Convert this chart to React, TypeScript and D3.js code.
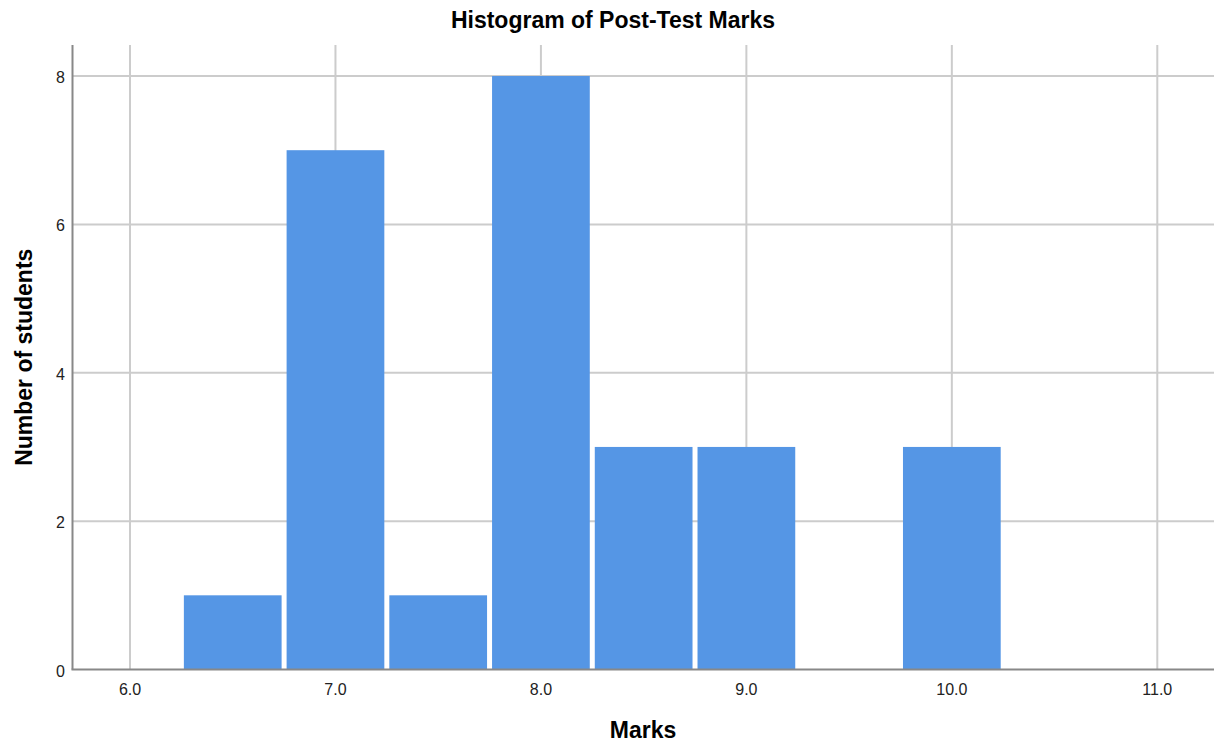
import React from 'react';
import * as d3 from 'd3';

// histogram bins (width 0.5) and counts
const binStarts = [6.25, 6.75, 7.25, 7.75, 8.25, 8.75, 9.25, 9.75];
const counts = [1, 7, 1, 8, 3, 3, 0, 3];
const binWidth = 0.5;

const xTicks = [6, 7, 8, 9, 10, 11];
const yTicks = [0, 2, 4, 6, 8];

const W = 1221;
const H = 742;
const FONT = '"Liberation Sans", Arial, sans-serif';

const App: React.FC = () => {
  const left = 72.5;
  const right = 1214;
  const top = 45;
  const bottom = 669.5;

  const x = d3.scaleLinear().domain([5.7201, 11.276]).range([left, right]);
  const y = d3.scaleLinear().domain([0, 8.418]).range([bottom, top]);

  const gap = 2.5;

  return (
    <div style={{ position: 'absolute', left: 0, top: 0 }}>
      <svg width={W} height={H} style={{ display: 'block', background: '#fff' }}>
        {/* title */}
        <text
          x={613}
          y={28}
          textAnchor="middle"
          fontFamily={FONT}
          fontWeight="bold"
          fontSize={23}
          fill="#000"
        >
          Histogram of Post-Test Marks
        </text>

        {/* grid lines */}
        {yTicks.filter(t => t > 0).map(t => (
          <line
            key={`gy${t}`}
            x1={left}
            x2={right}
            y1={y(t)}
            y2={y(t)}
            stroke="#cccccc"
            strokeWidth={2}
          />
        ))}
        {xTicks.map(t => (
          <line
            key={`gx${t}`}
            x1={x(t)}
            x2={x(t)}
            y1={top}
            y2={bottom}
            stroke="#cccccc"
            strokeWidth={2}
          />
        ))}

        {/* bars */}
        {binStarts.map((s, i) =>
          counts[i] > 0 ? (
            <rect
              key={`b${i}`}
              x={x(s) + gap}
              width={x(s + binWidth) - x(s) - gap * 2}
              y={y(counts[i])}
              height={bottom - y(counts[i])}
              fill="#5596e5"
            />
          ) : null
        )}

        {/* axes */}
        <line x1={left} x2={left} y1={top} y2={bottom} stroke="#888" strokeWidth={2} />
        <line x1={left - 1} x2={right} y1={bottom} y2={bottom} stroke="#888" strokeWidth={2} />

        {/* tick labels */}
        {yTicks.map(t => (
          <text
            key={`ly${t}`}
            x={65}
            y={y(t) + 7}
            textAnchor="end"
            fontFamily={FONT}
            fontSize={16}
            fill="#222"
          >
            {t}
          </text>
        ))}
        {xTicks.map(t => (
          <text
            key={`lx${t}`}
            x={x(t)}
            y={695}
            textAnchor="middle"
            fontFamily={FONT}
            fontSize={16}
            fill="#222"
          >
            {d3.format('.1f')(t)}
          </text>
        ))}

        {/* axis titles */}
        <text
          x={643}
          y={738}
          textAnchor="middle"
          fontFamily={FONT}
          fontWeight="bold"
          fontSize={23}
          fill="#000"
        >
          Marks
        </text>
        <text
          transform={`translate(32,${(top + bottom) / 2}) rotate(-90)`}
          textAnchor="middle"
          fontFamily={FONT}
          fontWeight="bold"
          fontSize={23}
          fill="#000"
        >
          Number of students
        </text>
      </svg>
    </div>
  );
};

export default App;
